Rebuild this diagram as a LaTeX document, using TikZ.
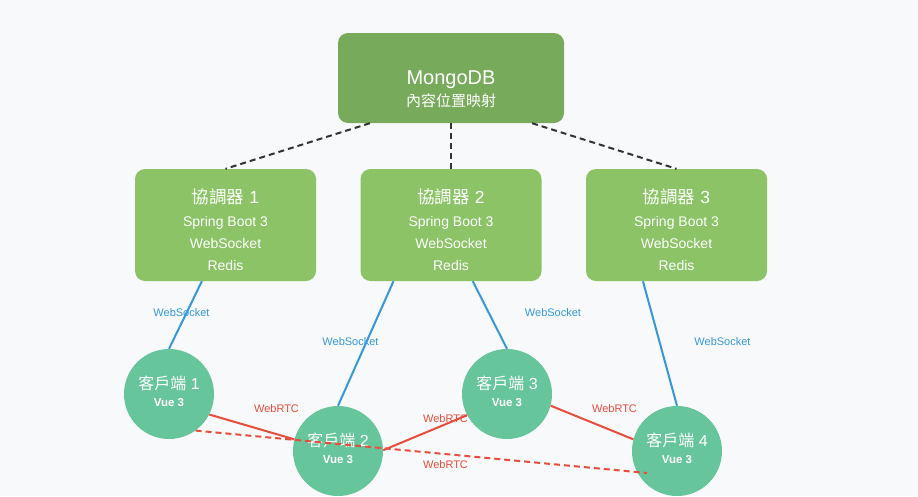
\documentclass[tikz,border=0pt]{standalone}
\usepackage{fontspec}
\setmainfont{Liberation Sans}
\newfontfamily\cjk{Noto Sans CJK TC}
\usetikzlibrary{calc}
\definecolor{bg}{HTML}{F8F9FA}
\definecolor{mongofill}{HTML}{78AA5C}
\definecolor{coordfill}{HTML}{8BC366}
\definecolor{clientfill}{HTML}{66C59B}
\definecolor{wsblue}{HTML}{3498DB}
\definecolor{rtcred}{HTML}{E74C3C}
\definecolor{darkline}{HTML}{333333}
\begin{document}
\begin{tikzpicture}[x=1pt,y=-1pt,
  mongobox/.style={rectangle, rounded corners=10pt, inner sep=0pt, fill=mongofill, minimum width=226pt, minimum height=90pt},
  coordbox/.style={rectangle, rounded corners=10pt, inner sep=0pt, fill=coordfill, minimum width=181pt, minimum height=112pt},
  clientnode/.style={circle, inner sep=0pt, fill=clientfill, minimum size=90pt},
  wtext/.style={text=white, inner sep=0pt, anchor=base},
  bigtitle/.style={wtext, font=\fontsize{20}{22}\selectfont},
  subtitle/.style={wtext, font=\fontsize{15}{17}\selectfont},
  ctitle/.style={wtext, font=\fontsize{17.5}{20}\selectfont},
  cline/.style={wtext, font=\fontsize{14}{16}\selectfont},
  kltitle/.style={wtext, font=\fontsize{16}{18}\selectfont},
  klsub/.style={wtext, font=\bfseries\fontsize{11.5}{13}\selectfont},
  dbline/.style={draw=darkline, line width=2pt, dash pattern=on 6pt off 4pt},
  wsline/.style={draw=wsblue, line width=2pt},
  rtcline/.style={draw=rtcred, line width=2pt},
  rtcdash/.style={draw=rtcred, line width=2pt, dash pattern=on 6pt off 4pt},
  wslabel/.style={text=wsblue, inner sep=0pt, anchor=base, font=\fontsize{11}{13}\selectfont},
  rtclabel/.style={text=rtcred, inner sep=0pt, anchor=base, font=\fontsize{11}{13}\selectfont}
]
\fill[bg] (0,0) rectangle (918,496);
\useasboundingbox (0,0) rectangle (918,496);

% MongoDB
\node[mongobox] (mongo) at (451,78) {};
\node[bigtitle] (mongot) at (451,84) {MongoDB};
\node[subtitle] (mongos) at (451,106) {\cjk 內容位置映射};

% Coordinators
\foreach \i/\x in {1/225.5, 2/451, 3/676.5}{
  \node[coordbox] (k\i) at (\x,225) {};
  \node[ctitle] (k\i t) at (\x,203) {{\cjk 協調器} \i};
  \node[cline] (k\i a) at (\x,226) {Spring Boot 3};
  \node[cline] (k\i b) at (\x,248) {WebSocket};
  \node[cline] (k\i c) at (\x,270) {Redis};
}

% Clients
\foreach \i/\x/\y in {1/169/394, 2/338/451, 3/507/394, 4/677/451}{
  \node[clientnode] (c\i) at (\x,\y) {};
}

% DB connectors
\draw[dbline] ($(mongo.south west)!0.142!(mongo.south east)$) -- (k1.north);
\draw[dbline] (mongo.south) -- (k2.north);
\draw[dbline] ($(mongo.south west)!0.858!(mongo.south east)$) -- (k3.north);

% WebSocket connectors
\draw[wsline] ($(k1.south west)!0.37!(k1.south east)$) -- (c1.north);
\draw[wsline] ($(k2.south west)!0.183!(k2.south east)$) -- (c2.north);
\draw[wsline] ($(k2.south west)!0.62!(k2.south east)$) -- (c3.north);
\draw[wsline] ($(k3.south west)!0.315!(k3.south east)$) -- (c4.north);

% WebRTC connectors
\draw[rtcline] (c1.-27) -- (c2.165);
\draw[rtcline] (c2.1) -- (c3.208);
\draw[rtcline] (c3.-15) -- (c4.165);

% Client texts
\foreach \i/\x/\y in {1/169/394, 2/338/451, 3/507/394, 4/677/451}{
  \node[kltitle] (c\i t) at (\x,\y-5) {{\cjk 客戶端} \i};
  \node[klsub] (c\i s) at (\x,\y+12) {Vue 3};
}

\coordinate (d4) at ($(c4.center)+(-30,22)$);
\draw[rtcdash] (c1.-54) -- (d4);

% Labels
\node[wslabel] (ws1) at (181.5,316) {WebSocket};
\node[wslabel] (ws2) at (350.5,345) {WebSocket};
\node[wslabel] (ws3) at (553,316) {WebSocket};
\node[wslabel] (ws4) at (722.5,345) {WebSocket};
\node[rtclabel] (r1) at (276.5,412) {WebRTC};
\node[rtclabel] (r2) at (445.5,422) {WebRTC};
\node[rtclabel] (r3) at (614.5,412) {WebRTC};
\node[rtclabel] (r4) at (445.5,468) {WebRTC};
\end{tikzpicture}
\end{document}
